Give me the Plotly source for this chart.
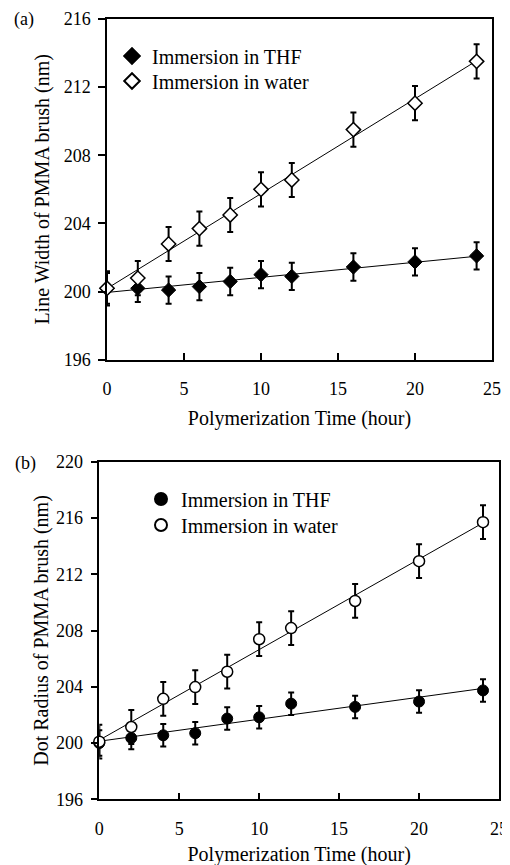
import numpy as np
import plotly.graph_objects as go

time_h = [0, 2, 4, 6, 8, 10, 12, 16, 20, 24]

# Panel (a): line width of PMMA brush (nm)
line_thf = [200.2, 200.2, 200.1, 200.3, 200.6, 201.0, 200.9, 201.45, 201.75, 202.1]
line_thf_err = [0.9, 0.8, 0.8, 0.8, 0.8, 0.8, 0.8, 0.8, 0.8, 0.8]
line_water = [200.2, 200.8, 202.8, 203.7, 204.5, 206.0, 206.55, 209.5, 211.05, 213.5]
line_water_err = [1.0, 1.0, 1.0, 1.0, 1.0, 1.0, 1.0, 1.0, 1.0, 1.0]

# Panel (b): dot radius of PMMA brush (nm)
dot_thf = [200.0, 200.36, 200.55, 200.7, 201.74, 201.83, 202.8, 202.57, 202.95, 203.74]
dot_thf_err = [0.9, 0.8, 0.8, 0.8, 0.8, 0.8, 0.8, 0.8, 0.8, 0.8]
dot_water = [200.1, 201.14, 203.14, 203.98, 205.07, 207.38, 208.17, 210.1, 212.93, 215.7]
dot_water_err = [1.2, 1.2, 1.2, 1.2, 1.2, 1.2, 1.2, 1.2, 1.2, 1.2]

x_ticks = [0, 5, 10, 15, 20, 25]
ya_ticks = [196, 200, 204, 208, 212, 216]
yb_ticks = [196, 200, 204, 208, 212, 216, 220]

FONT = "Liberation Serif, Times New Roman, serif"
fig = go.Figure()


def trend(x, y):
    k, b = np.polyfit(x, y, 1)
    xs = np.array([min(x), max(x)], dtype=float)
    return xs, k * xs + b


def add_panel(xref, yref, thf, thf_err, water, water_err, sym, leg_thf, leg_water):
    for ys in (thf, water):
        xs, yl = trend(time_h, ys)
        fig.add_trace(go.Scatter(x=xs, y=yl, mode="lines", line=dict(color="black", width=1),
                                 showlegend=False, hoverinfo="skip", xaxis=xref, yaxis=yref))
    eb = dict(type="data", visible=True, thickness=2, width=3, color="black")
    fig.add_trace(go.Scatter(x=time_h, y=thf, mode="markers", name="Immersion in THF",
                             marker=dict(symbol=sym, size=11, color="black",
                                         line=dict(color="black", width=1)),
                             cliponaxis=False,
                             error_y=dict(array=thf_err, **eb), xaxis=xref, yaxis=yref, legend=leg_thf))
    fig.add_trace(go.Scatter(x=time_h, y=water, mode="markers", name="Immersion in water",
                             marker=dict(symbol=sym, size=11, color="white",
                                         line=dict(color="black", width=1.5)),
                             cliponaxis=False,
                             error_y=dict(array=water_err, **eb), xaxis=xref, yaxis=yref, legend=leg_water))


add_panel("x", "y", line_thf, line_thf_err, line_water, line_water_err, "diamond", "legend", "legend2")
add_panel("x2", "y2", dot_thf, dot_thf_err, dot_water, dot_water_err, "circle", "legend3", "legend4")

W, H = 510, 865
OX, OY = 8, 8  # page body margin offset


def px(x):
    return (x - OX) / W


def py(y):
    return 1 - (y - OY) / H


tickfont = dict(family=FONT, size=18, color="black")
titlefont = dict(family=FONT, size=20, color="black")
axis_common = dict(showline=True, mirror=True, linecolor="black", linewidth=1.5, automargin=False,
                   showgrid=False, zeroline=False, tickfont=tickfont, tickcolor="black")


def xaxis(domain, anchor, standoff):
    return dict(domain=domain, anchor=anchor, range=[0, 25], tickvals=x_ticks,
                ticks="inside", ticklen=7, tickwidth=1.5, ticklabelstandoff=12,
                title=dict(text="Polymerization Time (hour)", font=titlefont, standoff=standoff),
                **axis_common)


def yaxis(domain, anchor, rng, tv, title, standoff):
    return dict(domain=domain, anchor=anchor, range=rng, tickvals=tv,
                ticks="outside", ticklen=7, tickwidth=1.5, ticklabelstandoff=4,
                title=dict(text=title, font=titlefont, standoff=standoff),
                **axis_common)


leg_common = dict(bgcolor="rgba(0,0,0,0)", font=titlefont,
                  xanchor="left", yanchor="middle", itemsizing="constant", tracegroupgap=0)

fig.update_layout(
    template="none",
    font=dict(family=FONT, size=18, color="black"),
    width=W, height=H, margin=dict(l=0, r=0, t=0, b=0, autoexpand=False),
    plot_bgcolor="white", paper_bgcolor="white",
    xaxis=xaxis([px(107), px(492)], "y", 13),
    yaxis=yaxis([py(360), py(18.7)], "x", [196, 216], ya_ticks, "Line Width of PMMA brush (nm)", 9),
    xaxis2=xaxis([px(99.3), px(499)], "y2", 9),
    yaxis2=yaxis([py(799.3), py(461.7)], "x2", [196, 220], yb_ticks, "Dot Radius of PMMA brush (nm)", 2),
    legend=dict(x=px(112), y=py(56), **leg_common),
    legend2=dict(x=px(112), y=py(81), **leg_common),
    legend3=dict(x=px(141), y=py(499), **leg_common),
    legend4=dict(x=px(141), y=py(525), **leg_common),
    annotations=[
        dict(text="(a)", x=px(24), y=py(20), xref="paper", yref="paper", showarrow=False,
             xanchor="center", yanchor="middle", font=tickfont),
        dict(text="(b)", x=px(25), y=py(463), xref="paper", yref="paper", showarrow=False,
             xanchor="center", yanchor="middle", font=tickfont),
    ],
)

fig.write_html("out.html")
